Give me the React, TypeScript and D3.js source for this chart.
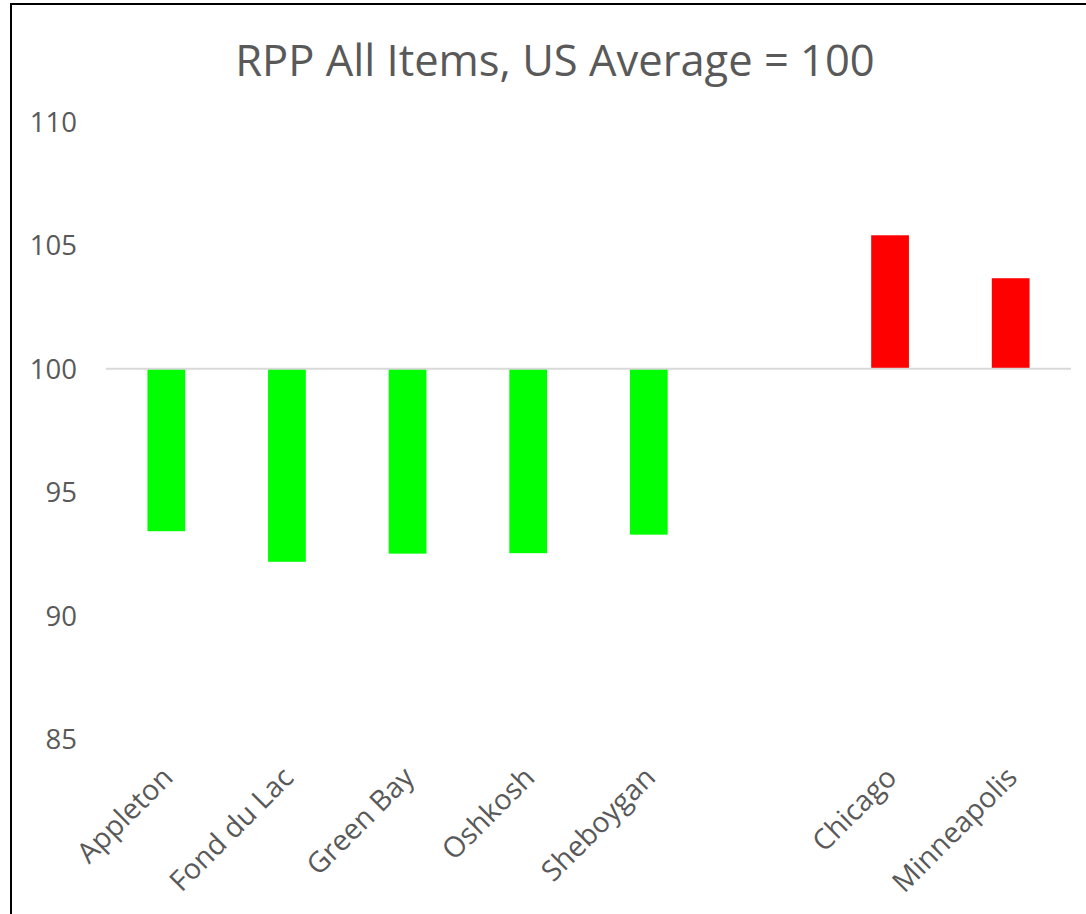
import React, { useEffect, useRef } from 'react';
import * as d3 from 'd3';

// RPP values, US average = 100 (blank slot separates the WI metros from the big cities)
const categories = ['Appleton', 'Fond du Lac', 'Green Bay', 'Oshkosh', 'Sheboygan', '', 'Chicago', 'Minneapolis'];
const rppValues: (number | null)[] = [93.42, 92.18, 92.51, 92.53, 93.28, null, 105.41, 103.67];
const yTicks = [85, 90, 95, 100, 105, 110];
const baseline = 100;

const App = () => {
  const svgRef = useRef<SVGSVGElement>(null);

  useEffect(() => {
    const svg = d3.select(svgRef.current);
    svg.selectAll('*').remove();

    const width = 1086;
    const height = 914;
    const font = '"Open Sans", sans-serif';
    const textColor = '#595959';

    // outer chart frame
    svg.append('rect')
      .attr('x', 11)
      .attr('y', 4)
      .attr('width', width + 20)
      .attr('height', height + 20)
      .attr('fill', '#fff')
      .attr('stroke', '#000')
      .attr('stroke-width', 2);

    svg.append('text')
      .attr('x', 555)
      .attr('y', 76)
      .attr('text-anchor', 'middle')
      .attr('font-family', font)
      .attr('font-size', 43.5)
      .attr('fill', textColor)
      .text('RPP All Items, US Average = 100');

    const x = d3.scaleBand()
      .domain(categories.map((d, i) => String(i)))
      .range([106, 1071])
      .paddingInner(0.687)
      .paddingOuter(0.687 / 2);

    const y = d3.scaleLinear()
      .domain([85, 110])
      .range([739, 122]);

    // y tick labels
    svg.append('g')
      .selectAll('text')
      .data(yTicks)
      .enter()
      .append('text')
      .attr('x', 77)
      .attr('y', d => y(d))
      .attr('dy', '0.36em')
      .attr('text-anchor', 'end')
      .attr('font-family', font)
      .attr('font-size', 27.5)
      .attr('fill', textColor)
      .text(d => d);

    const bars = categories
      .map((c, i) => ({ key: String(i), name: c, value: rppValues[i] }))
      .filter(d => d.value !== null) as { key: string; name: string; value: number }[];

    svg.append('g')
      .selectAll('rect')
      .data(bars)
      .enter()
      .append('rect')
      .attr('x', d => x(d.key)!)
      .attr('width', x.bandwidth())
      .attr('y', d => y(Math.max(d.value, baseline)))
      .attr('height', d => Math.abs(y(d.value) - y(baseline)))
      .attr('fill', d => (d.value < baseline ? '#00ff00' : '#ff0000'));

    // horizontal axis crosses at 100
    svg.append('line')
      .attr('x1', 106)
      .attr('x2', 1071)
      .attr('y1', y(baseline))
      .attr('y2', y(baseline))
      .attr('stroke', '#d9d9d9')
      .attr('stroke-width', 2);

    // rotated category labels
    svg.append('g')
      .selectAll('text')
      .data(categories.map((c, i) => ({ key: String(i), name: c })).filter(d => d.name))
      .enter()
      .append('text')
      .attr('transform', d => `translate(${x(d.key)! + x.bandwidth() / 2 + 1},${772}) rotate(-45)`)
      .attr('text-anchor', 'end')
      .attr('dy', '0.36em')
      .attr('font-family', font)
      .attr('font-size', 28.5)
      .attr('fill', textColor)
      .text(d => d.name);
  }, []);

  return (
    <svg
      ref={svgRef}
      width={1086}
      height={914}
      style={{ position: 'absolute', left: 0, top: 0, display: 'block' }}
    />
  );
};

export default App;
